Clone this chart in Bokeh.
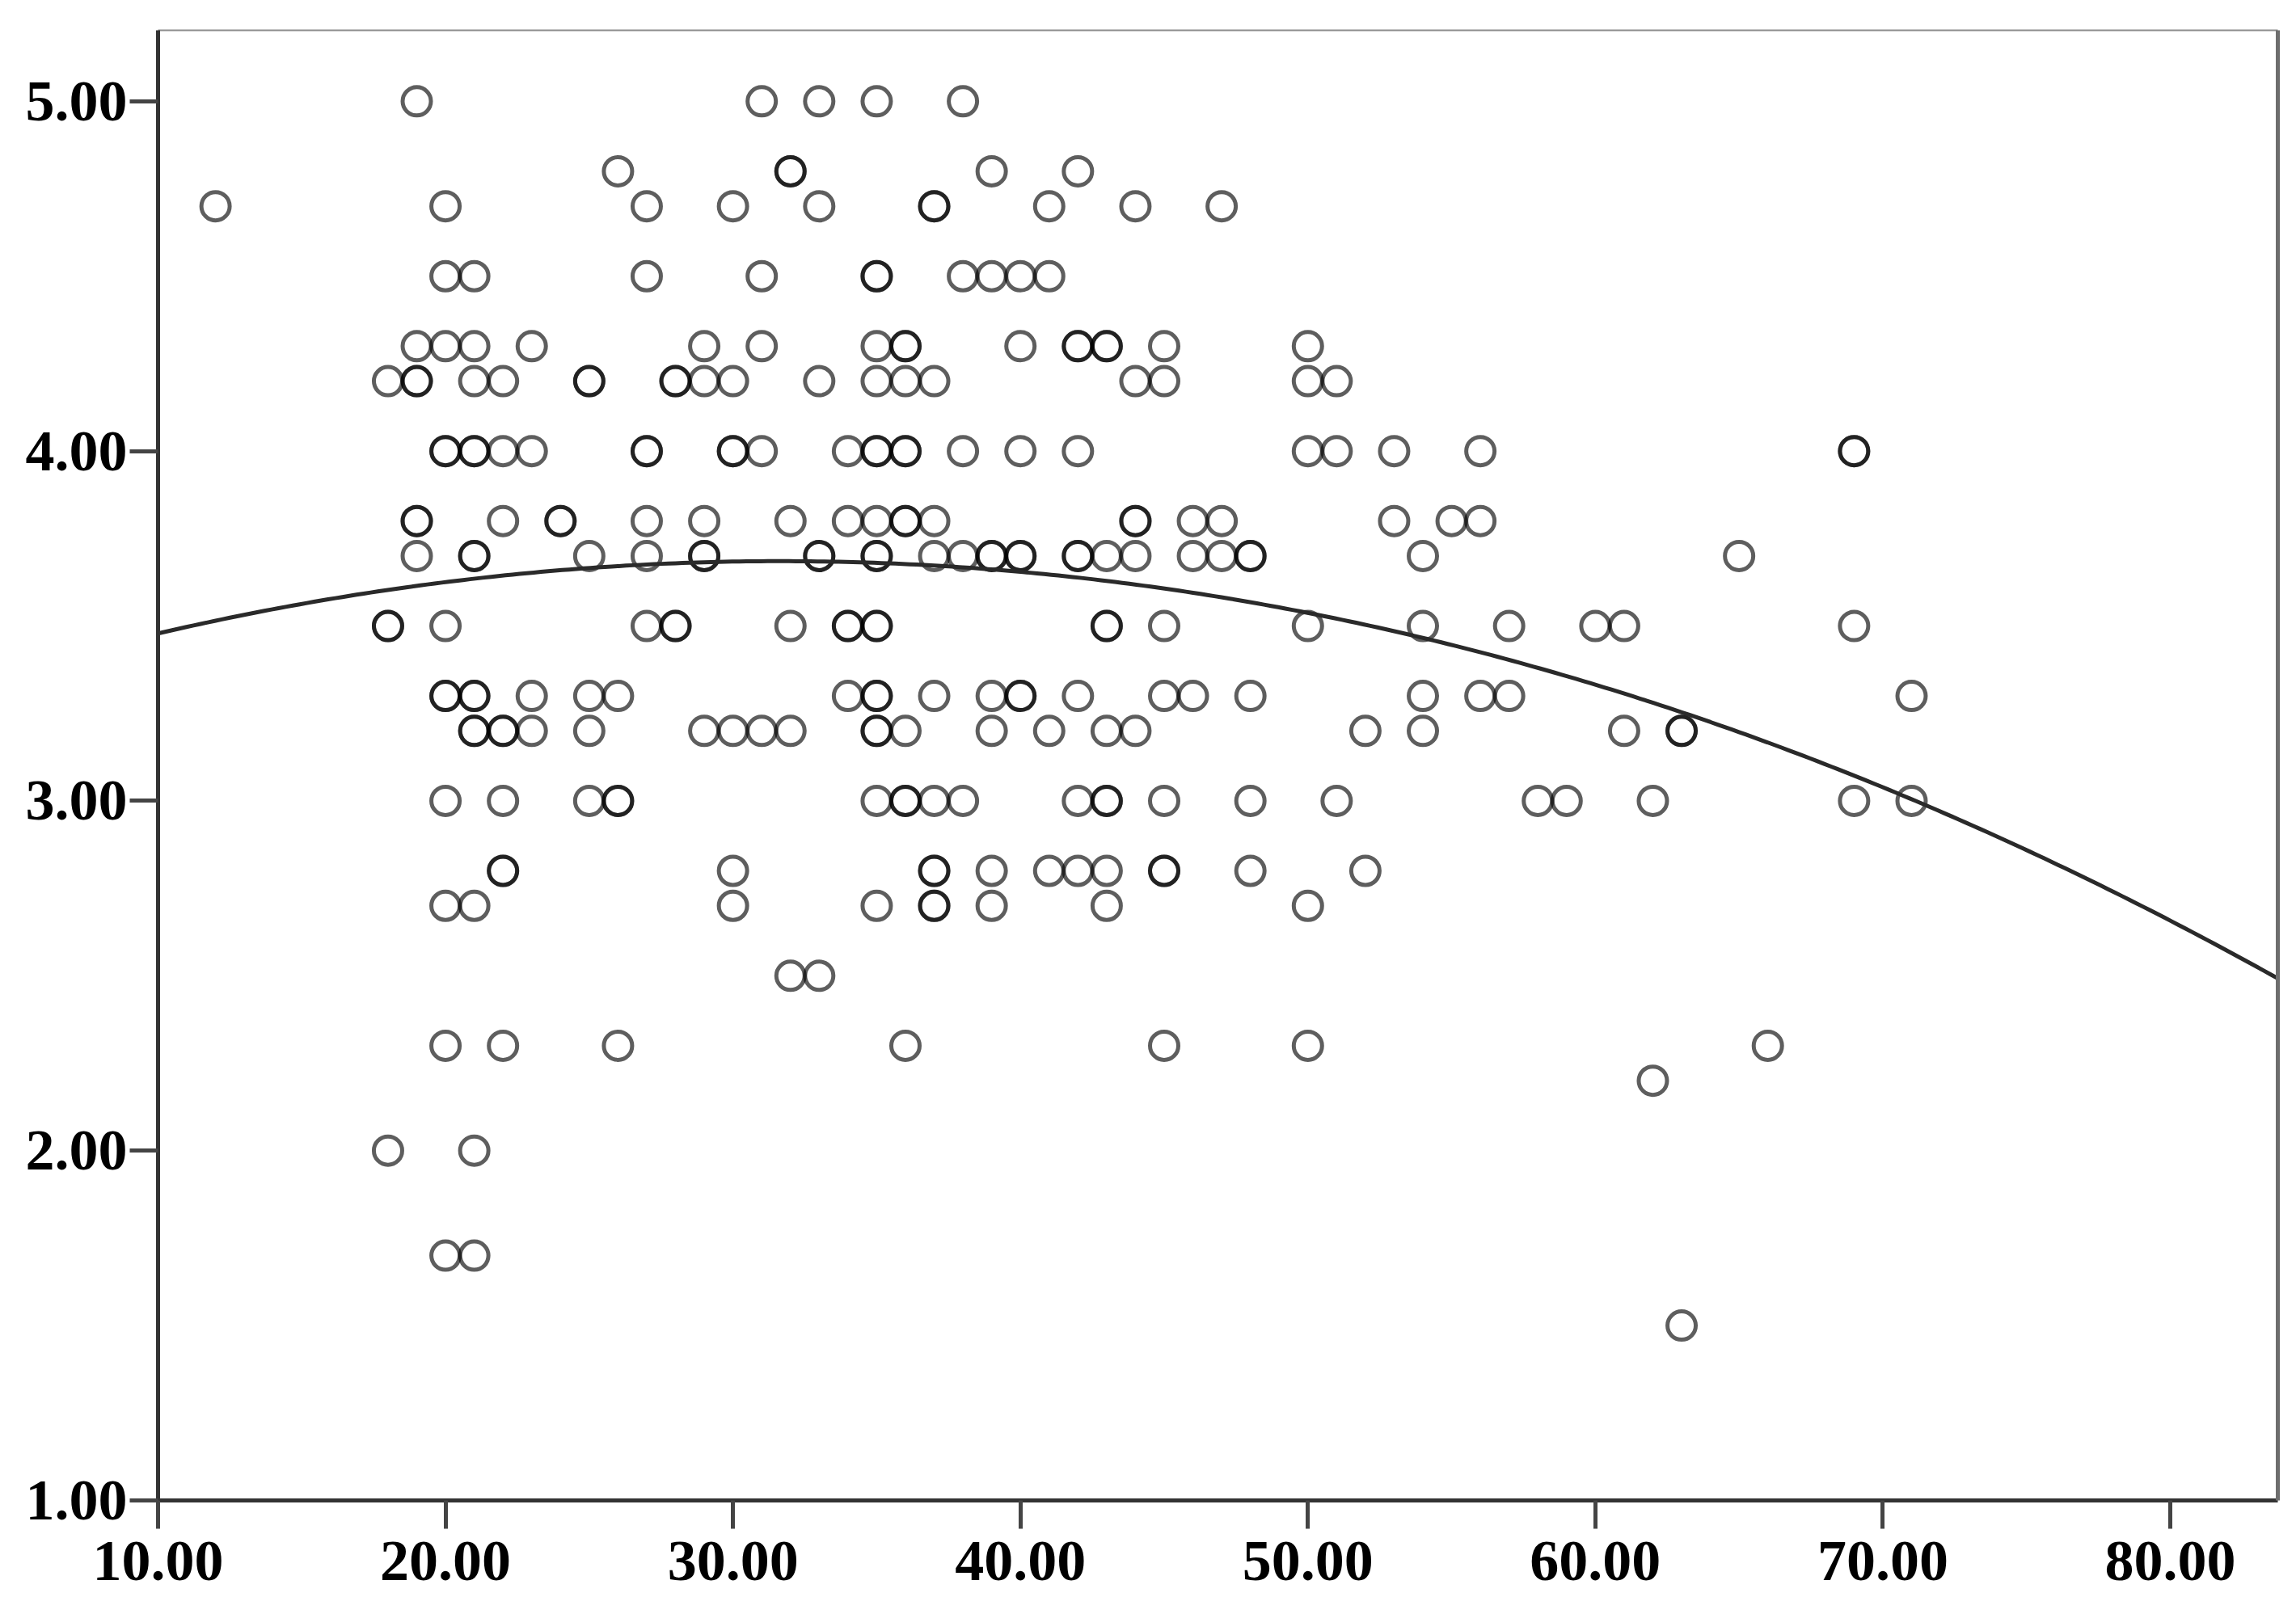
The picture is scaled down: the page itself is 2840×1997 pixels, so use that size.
import numpy as np
from bokeh.plotting import figure
from bokeh.models import Range1d, LinearAxis, FixedTicker, PrintfTickFormatter, ColumnDataSource
from bokeh.embed import file_html
from bokeh.resources import INLINE

# ---- data: ages at each score level (duplicates listed twice) ----
score_levels = [5.0, 4.8, 4.7, 4.5, 4.3, 4.2, 4.0, 3.8, 3.7, 3.5, 3.3, 3.2, 3.0, 2.8, 2.7, 2.5, 2.3, 2.2, 2.0, 1.7, 1.5]
ages_500 = [19, 31, 33, 35, 38]
ages_480 = [26, 32, 32, 39, 42]
ages_470 = [12, 20, 27, 30, 33, 37, 37, 41, 44, 47]
ages_450 = [20, 21, 27, 31, 35, 35, 38, 39, 40, 41]
ages_430 = [19, 20, 21, 23, 29, 31, 35, 36, 36, 40, 42, 42, 43, 43, 45, 50]
ages_420 = [18, 19, 19, 21, 22, 25, 25, 28, 28, 29, 30, 33, 35, 36, 37, 44, 45, 50, 51]
ages_400 = [20, 20, 21, 21, 22, 23, 27, 27, 30, 30, 31, 34, 35, 35, 36, 36, 38, 40, 42, 50, 51, 53, 56, 69, 69]
ages_380 = [19, 19, 22, 24, 24, 27, 29, 32, 34, 35, 36, 36, 37, 44, 44, 46, 47, 53, 55, 56]
ages_370 = [19, 21, 21, 25, 27, 29, 29, 33, 33, 35, 35, 37, 38, 39, 39, 40, 40, 42, 42, 43, 44, 46, 47, 48, 48, 54, 65]
ages_350 = [18, 18, 20, 27, 28, 28, 32, 34, 34, 35, 35, 43, 43, 45, 50, 54, 57, 60, 61, 69]
ages_330 = [20, 20, 21, 21, 23, 25, 26, 34, 35, 35, 37, 39, 40, 40, 42, 45, 46, 48, 54, 56, 57, 71]
ages_320 = [21, 21, 22, 22, 23, 25, 29, 30, 31, 32, 35, 35, 36, 39, 41, 43, 44, 52, 54, 61, 63, 63]
ages_300 = [20, 22, 25, 26, 26, 35, 36, 36, 37, 38, 42, 43, 43, 45, 48, 51, 58, 59, 62, 69, 71]
ages_280 = [22, 22, 30, 37, 37, 39, 41, 42, 43, 45, 45, 48, 52]
ages_270 = [20, 21, 30, 35, 37, 37, 39, 43, 50]
ages_250 = [32, 33]
ages_230 = [20, 22, 26, 36, 45, 50, 66]
ages_220 = [62]
ages_200 = [18, 21]
ages_170 = [20, 21]
ages_150 = [63]
ages_by_level = [ages_500, ages_480, ages_470, ages_450, ages_430, ages_420, ages_400, ages_380,
                 ages_370, ages_350, ages_330, ages_320, ages_300, ages_280, ages_270, ages_250,
                 ages_230, ages_220, ages_200, ages_170, ages_150]

# quadratic fit curve coefficients: y = b0 + b1*x + b2*x^2
fit_b0 = 3.244
fit_b1 = 0.02787
fit_b2 = -0.000440

x_ticks = [10, 20, 30, 40, 50, 60, 70, 80]
y_ticks = [1, 2, 3, 4, 5]
x_min, x_max = 10, 83.74
y_min, y_max = 1, 5.203

ages = []
scores = []
for lvl, arr in zip(score_levels, ages_by_level):
    ages.extend(arr)
    scores.extend([lvl] * len(arr))
src = ColumnDataSource(dict(age=ages, score=scores))

curve_x = np.linspace(x_min, x_max, 300)
curve_y = fit_b0 + fit_b1 * curve_x + fit_b2 * curve_x ** 2

p = figure(width=2832, height=1992, output_backend="svg", toolbar_location=None,
           x_range=Range1d(x_min, x_max), y_range=Range1d(y_min, y_max),
           min_border_left=195, min_border_right=15, min_border_top=37, min_border_bottom=136)
p.grid.visible = False
p.outline_line_color = None
p.background_fill_color = "white"
p.border_fill_color = "white"

p.scatter("age", "score", source=src, marker="circle", size=35, fill_color=None,
          line_color="black", line_alpha=0.63, line_width=5)
p.line(curve_x, curve_y, line_color="#2a2a2a", line_width=5)

for ax, ticks, standoff in ((p.xaxis[0], x_ticks, 16), (p.yaxis[0], y_ticks, 3)):
    ax.ticker = FixedTicker(ticks=ticks)
    ax.formatter = PrintfTickFormatter(format="%.2f")
    ax.axis_line_width = 5
    ax.axis_line_color = "#333333"
    ax.major_tick_line_width = 5
    ax.major_tick_line_color = "#444444"
    ax.major_tick_out = 35
    ax.major_tick_in = 0
    ax.minor_tick_line_color = None
    ax.major_label_text_font = "Liberation Serif"
    ax.major_label_text_font_style = "bold"
    ax.major_label_text_font_size = "72px"
    ax.major_label_text_color = "black"
    ax.major_label_standoff = standoff

top_axis = LinearAxis(ticker=FixedTicker(ticks=[]), major_label_text_font_size="0px",
                      axis_line_width=2, axis_line_color="#8c8c8c",
                      major_tick_line_color=None, minor_tick_line_color=None)
right_axis = LinearAxis(ticker=FixedTicker(ticks=[]), major_label_text_font_size="0px",
                        axis_line_width=5, axis_line_color="#6e6e6e",
                        major_tick_line_color=None, minor_tick_line_color=None)
p.add_layout(top_axis, "above")
p.add_layout(right_axis, "right")

open("out.html", "w").write(file_html(p, INLINE))
